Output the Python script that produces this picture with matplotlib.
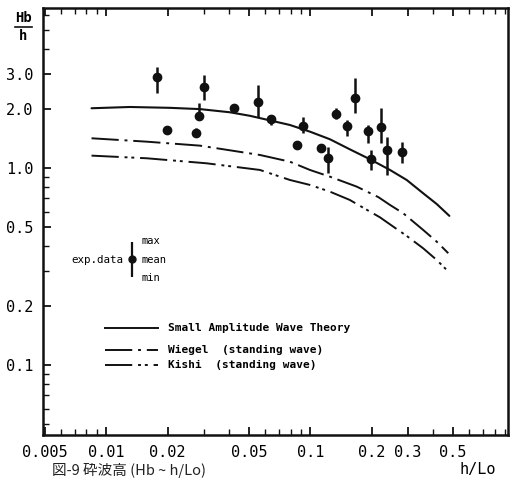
import matplotlib
matplotlib.use("Agg")
import matplotlib.pyplot as plt
from matplotlib.lines import Line2D
import numpy as np

# ---------------- data ----------------
x_exp = [0.0178, 0.0199, 0.0275, 0.0284, 0.0301, 0.0424, 0.0553, 0.0638, 0.0859, 0.092,
         0.113, 0.122, 0.133, 0.152, 0.165, 0.191, 0.199, 0.221, 0.237, 0.281]
y_mean = [2.89, 1.56, 1.50, 1.84, 2.57, 2.02, 2.16, 1.77, 1.31, 1.63,
          1.27, 1.13, 1.87, 1.64, 2.27, 1.54, 1.11, 1.61, 1.24, 1.21]
y_max = [3.26, 1.58, 1.60, 2.14, 2.97, 2.06, 2.64, 1.86, 1.33, 1.82,
         1.29, 1.28, 2.02, 1.75, 2.87, 1.65, 1.23, 2.01, 1.44, 1.36]
y_min = [2.40, 1.54, 1.44, 1.75, 2.21, 1.98, 1.82, 1.65, 1.29, 1.505,
         1.25, 0.94, 1.77, 1.45, 1.90, 1.335, 0.977, 1.335, 0.921, 1.056]

x_small = [0.00847, 0.01305, 0.0205, 0.0288, 0.0403, 0.0506, 0.0794, 0.0995, 0.1247,
           0.156, 0.196, 0.2455, 0.2965, 0.357, 0.416, 0.480]
y_small = [2.01, 2.04, 2.02, 1.99, 1.918, 1.84, 1.653, 1.529, 1.399,
           1.244, 1.107, 0.977, 0.869, 0.744, 0.656, 0.571]

x_wiegel = [0.00847, 0.01576, 0.0288, 0.0566, 0.0794, 0.0995, 0.1247, 0.1687, 0.2154,
            0.2455, 0.285, 0.357, 0.416, 0.474]
y_wiegel = [1.415, 1.36, 1.298, 1.164, 1.076, 0.977, 0.903, 0.804, 0.711,
            0.649, 0.589, 0.4845, 0.4225, 0.369]

x_kishi = [0.00847, 0.01576, 0.031, 0.0566, 0.0794, 0.0995, 0.1247, 0.156, 0.196,
           0.219, 0.2545, 0.2965, 0.357, 0.416, 0.462]
y_kishi = [1.155, 1.12, 1.056, 0.977, 0.869, 0.820, 0.758, 0.688, 0.600,
           0.562, 0.504, 0.4517, 0.391, 0.341, 0.306]

x_ticks = [0.005, 0.01, 0.02, 0.05, 0.1, 0.2, 0.3, 0.5]
x_ticklabels = ["0.005", "0.01", "0.02", "0.05", "0.1", "0.2", "0.3", "0.5"]
y_ticks = [0.1, 0.2, 0.5, 1.0, 2.0, 3.0]
y_ticklabels = ["0.1", "0.2", "0.5", "1.0", "2.0", "3.0"]

legend_labels = ["Small Amplitude Wave Theory", "Wiegel  (standing wave)", "Kishi  (standing wave)"]

# ---------------- figure ----------------
mono = "DejaVu Sans Mono"
fig = plt.figure(figsize=(5.17, 4.8), dpi=100)
ax = fig.add_axes([0.0832, 0.094, 0.8994, 0.8893])
ax.set_xscale("log")
ax.set_yscale("log")
ax.set_xlim(0.0049, 0.93)
ax.set_ylim(0.0441, 6.49)

ink = "#111111"
ax.plot(x_small, y_small, color=ink, lw=1.5, solid_capstyle="round", solid_joinstyle="round")
ax.plot(x_wiegel, y_wiegel, color=ink, lw=1.4, dashes=(14, 3, 1.5, 3))
ax.plot(x_kishi, y_kishi, color=ink, lw=1.4, dashes=(14, 3, 1.5, 2, 1.5, 3))

yerr = np.array([np.array(y_mean) - np.array(y_min), np.array(y_max) - np.array(y_mean)])
ax.errorbar(x_exp, y_mean, yerr=yerr, fmt="o", color=ink, ms=6, elinewidth=1.8, capsize=0)

ax.set_xticks(x_ticks)
ax.set_xticklabels(x_ticklabels)
ax.set_yticks(y_ticks)
ax.set_yticklabels(y_ticklabels)
ax.tick_params(which="both", direction="in", top=True, right=False, color=ink)
ax.tick_params(which="major", length=6, width=1.3, labelsize=11, pad=7)
ax.tick_params(which="minor", length=4, width=1.0)
ax.yaxis.set_minor_formatter(matplotlib.ticker.NullFormatter())
ax.xaxis.set_minor_formatter(matplotlib.ticker.NullFormatter())
for lab in ax.get_xticklabels() + ax.get_yticklabels():
    lab.set_fontfamily(mono)
for s in ax.spines.values():
    s.set_linewidth(1.8)
    s.set_color(ink)

# exp.data key
ax.errorbar([0.191], [0.412], yerr=[[0.042], [0.040]], fmt="o", color=ink, ms=5,
            elinewidth=1.6, capsize=0, transform=ax.transAxes)
ax.text(0.172, 0.410, "exp.data", transform=ax.transAxes, ha="right", va="center",
        fontsize=7.8, family=mono)
ax.text(0.212, 0.454, "max", transform=ax.transAxes, ha="left", va="center", fontsize=7.5, family=mono)
ax.text(0.212, 0.410, "mean", transform=ax.transAxes, ha="left", va="center", fontsize=7.5, family=mono)
ax.text(0.212, 0.368, "min", transform=ax.transAxes, ha="left", va="center", fontsize=7.5, family=mono)

# line key
key_y = [0.251, 0.199, 0.164]
key_dash = [None, (14, 3, 1.5, 3), (14, 3, 1.5, 2, 1.5, 3)]
for yy, dd, lab in zip(key_y, key_dash, legend_labels):
    ln = Line2D([0.133, 0.247], [yy, yy], transform=ax.transAxes, color=ink, lw=1.4)
    if dd is not None:
        ln.set_dashes(dd)
    ax.add_line(ln)
    ax.text(0.269, yy, lab, transform=ax.transAxes, ha="left", va="center",
            fontsize=8, family=mono, fontweight="bold")

# y label Hb / h
fig.text(0.045, 0.963, "Hb", ha="center", va="center", fontsize=10, family=mono, fontweight="bold")
fig.add_artist(Line2D([0.029, 0.062], [0.943, 0.943], transform=fig.transFigure, color=ink, lw=1.2))
fig.text(0.045, 0.925, "h", ha="center", va="center", fontsize=10, family=mono, fontweight="bold")

# x label
fig.text(0.925, 0.022, "h/Lo", ha="center", va="center", fontsize=11, family=mono)

# handwritten caption
fig.text(0.1, 0.004, "図-9 砕波高 (Hb ~ h/Lo)", ha="left", va="bottom", fontsize=10.5,
         family=["Noto Sans CJK JP", "DejaVu Sans"], color="#222222")

fig.savefig("out.png", dpi=100)
